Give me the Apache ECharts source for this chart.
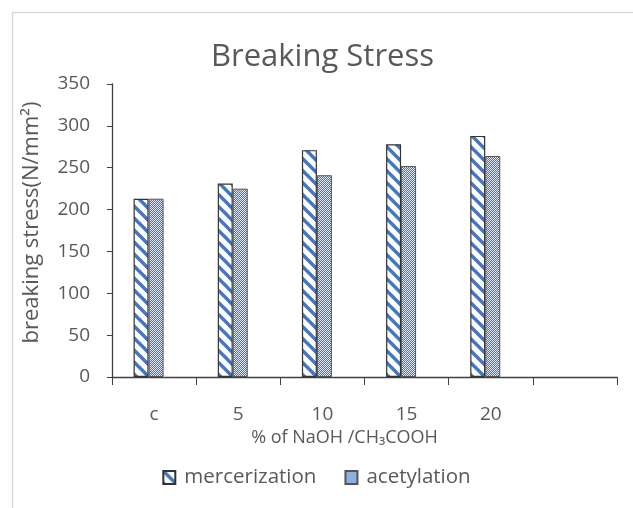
<!DOCTYPE html>
<html>
<head>
<meta charset="utf-8">
<script src="https://cdn.jsdelivr.net/npm/echarts@6/dist/echarts.min.js"></script>
<style>html,body{margin:0;padding:0;background:#fff}#c{width:633px;height:508px}</style>
</head>
<body>
<div id="c"></div>
<script>
const categories = ['c', '5', '10', '15', '20', ''];
const mercerization = [213, 231, 271, 278, 288];
const acetylation = [213, 225, 241, 252, 264];
const yTicks = { min: 0, max: 350, interval: 50 };

function stripePattern() {
  const s = 12, cv = document.createElement('canvas');
  cv.width = s; cv.height = s;
  const g = cv.getContext('2d');
  g.fillStyle = '#ffffff'; g.fillRect(0, 0, s, s);
  g.strokeStyle = '#4677bd'; g.lineWidth = 3.4;
  for (let k = -1; k <= 1; k++) {
    g.beginPath(); g.moveTo(k * s - 2, -2); g.lineTo(k * s + s + 2, s + 2); g.stroke();
  }
  return cv;
}
function dotPattern() {
  const cv = document.createElement('canvas');
  cv.width = 2; cv.height = 2;
  const g = cv.getContext('2d');
  g.fillStyle = '#3d78cc'; g.fillRect(0, 0, 2, 2);
  g.fillStyle = '#dce8f8'; g.fillRect(0, 0, 1, 1); g.fillRect(1, 1, 1, 1);
  return cv;
}

const txt = '#595959';
const font = 'Open Sans';
const chart = echarts.init(document.getElementById('c'), null, { renderer: 'canvas' });
chart.setOption({
  animation: false,
  backgroundColor: '#ffffff',
  textStyle: { fontFamily: font },
  graphic: [{ type: 'rect', shape: { x: 12.5, y: 12.5, width: 700, height: 600 }, style: { fill: 'none', stroke: '#d9d9d9', lineWidth: 1.5 }, silent: true }],
  title: { text: 'Breaking Stress', left: 211, top: 37, padding: [5, 0, 5, 0], textStyle: { fontFamily: font, fontSize: 31, fontWeight: 'normal', color: txt } },
  grid: { left: 112, right: 16, top: 84, bottom: 131, containLabel: false },
  legend: {
    data: ['mercerization', 'acetylation'], left: 'center', top: 462,
    icon: 'rect', itemWidth: 12, itemHeight: 13, itemGap: 28,
    textStyle: { fontFamily: font, fontSize: 20.5, color: txt, padding: [0, 0, 0, 4] }
  },
  xAxis: {
    type: 'category', data: categories,
    axisLine: { lineStyle: { color: '#404040', width: 1.3 } },
    axisTick: { show: true, length: 8, lineStyle: { color: '#404040' } },
    axisLabel: { fontFamily: font, fontSize: 19, color: txt, margin: 28 },
    name: '% of NaOH /CH\u2083COOH', nameLocation: 'middle', nameGap: 44,
    nameTextStyle: { fontFamily: font, fontSize: 18, color: txt, padding: [0, 40, 0, 0] }
  },
  yAxis: {
    type: 'value', min: yTicks.min, max: yTicks.max, interval: yTicks.interval,
    splitLine: { show: false },
    axisLine: { show: true, lineStyle: { color: '#404040', width: 1.3 } },
    axisTick: { show: true, length: 5, lineStyle: { color: '#404040' } },
    axisLabel: { fontFamily: font, fontSize: 19, color: txt, margin: 22 },
    name: 'breaking stress(N/mm\u00b2)', nameLocation: 'middle', nameGap: 69, nameRotate: 90,
    nameTextStyle: { fontFamily: font, fontSize: 22, color: txt, padding: [0, 0, 0, 16] }
  },
  series: [
    { name: 'mercerization', type: 'bar', data: mercerization, barWidth: 15, barGap: '0%',
      itemStyle: { color: { image: stripePattern(), repeat: 'repeat' }, borderColor: '#333333', borderWidth: 1.2 } },
    { name: 'acetylation', type: 'bar', data: acetylation, barWidth: 15, barGap: '0%',
      itemStyle: { color: { image: dotPattern(), repeat: 'repeat' }, borderColor: '#555555', borderWidth: 1 } },
    { name: 'spacer', type: 'bar', data: [], barWidth: 11, barGap: '0%', silent: true }
  ]
});
</script>
</body>
</html>
